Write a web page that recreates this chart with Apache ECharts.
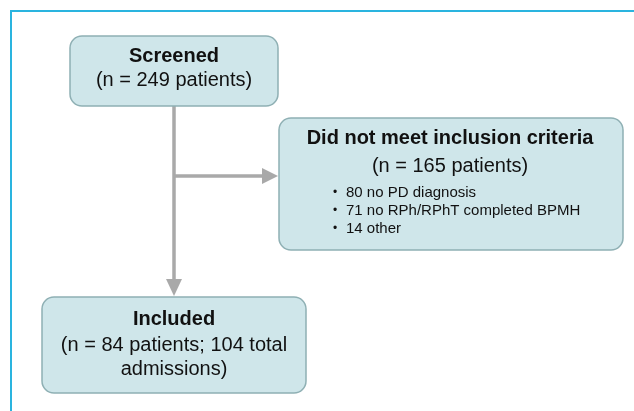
<!DOCTYPE html>
<html>
<head>
<meta charset="utf-8">
<script src="https://cdn.jsdelivr.net/npm/echarts@6/dist/echarts.min.js"></script>
<style>
  html, body { margin: 0; padding: 0; background: #fff; }
  #chart { width: 634px; height: 411px; }
</style>
</head>
<body>
<div id="chart"></div>
<script>
// flow counts
const screened = 249;
const excluded = 165;
const included = 84;
const admissions = 104;
const reasonCounts = [80, 71, 14];
const reasonLabels = ['no PD diagnosis', 'no RPh/RPhT completed BPMH', 'other'];
const titles = ['Screened', 'Did not meet inclusion criteria', 'Included'];

const FONT = '"Liberation Sans", Arial, Helvetica, sans-serif';
const boxFill = '#cfe6ea';
const boxLine = '#8fb0b4';
const arrowColor = '#a9a9a9';

function box(x, y, w, h) {
    return {
        type: 'rect',
        shape: { x: x, y: y, width: w, height: h, r: 12 },
        style: { fill: boxFill, stroke: boxLine, lineWidth: 1.5 }
    };
}

function label(text, x, y, size, bold, align) {
    return {
        type: 'text',
        x: x, y: y,
        style: {
            text: text,
            fill: '#111',
            font: (bold ? 'bold ' : '') + size + 'px ' + FONT,
            align: align || 'center',
            verticalAlign: 'middle'
        }
    };
}

const elements = [
    // frame (top + left)
    { type: 'polyline', shape: { points: [[634, 11], [11, 11], [11, 411]] },
      style: { stroke: '#2ab4df', lineWidth: 2, fill: null } },

    // connectors
    { type: 'line', shape: { x1: 174, y1: 106, x2: 174, y2: 280 },
      style: { stroke: arrowColor, lineWidth: 3.5 } },
    { type: 'polygon', shape: { points: [[166, 279], [182, 279], [174, 296]] },
      style: { fill: arrowColor } },
    { type: 'line', shape: { x1: 174, y1: 176, x2: 264, y2: 176 },
      style: { stroke: arrowColor, lineWidth: 3.5 } },
    { type: 'polygon', shape: { points: [[262, 168], [262, 184], [278, 176]] },
      style: { fill: arrowColor } },

    // boxes
    box(70, 36, 208, 70),
    box(279, 118, 344, 132),
    box(42, 297, 264, 96),

    label(titles[0], 174, 56, 20, true),
    label('(n = ' + screened + ' patients)', 174, 80, 20, false),

    label(titles[1], 450, 138, 20, true),
    label('(n = ' + excluded + ' patients)', 450, 166, 20, false),

    label(titles[2], 174, 319, 20, true),
    label('(n = ' + included + ' patients; ' + admissions + ' total', 174, 345, 20, false),
    label('admissions)', 174, 369, 20, false)
];

reasonCounts.forEach(function (c, i) {
    const y = 193 + i * 18;
    elements.push(label('\u2022', 333, y, 12, false, 'left'));
    elements.push(label(c + ' ' + reasonLabels[i], 346, y, 15, false, 'left'));
});

const chart = echarts.init(document.getElementById('chart'));
chart.setOption({
    backgroundColor: '#fff',
    animation: false,
    graphic: { elements: elements }
});
</script>
</body>
</html>
